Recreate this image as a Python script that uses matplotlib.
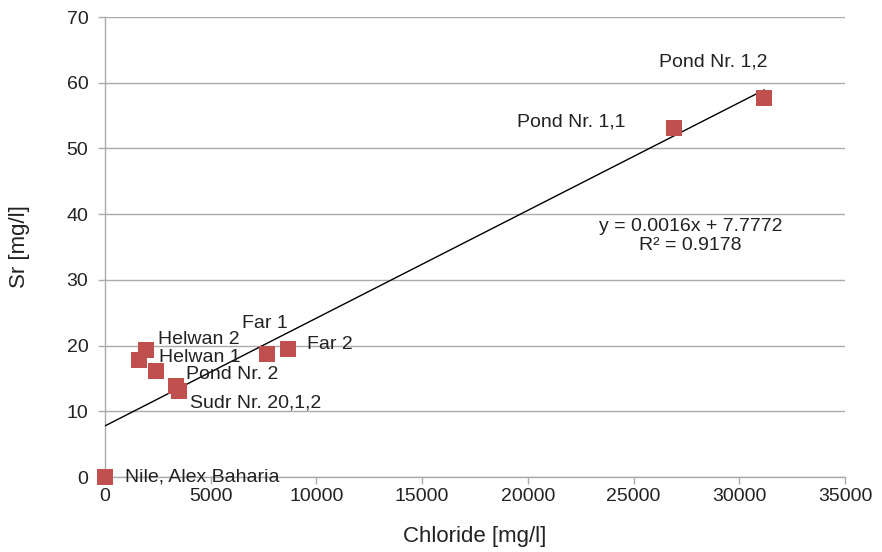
import numpy as np
import matplotlib
matplotlib.use('Agg')
import matplotlib.pyplot as plt

plt.rcParams['font.family'] = ['Liberation Sans', 'DejaVu Sans']

# chloride vs strontium per sampling site
chloride = [20, 1600, 1940, 2410, 3360, 3500, 7660, 8660, 26920, 31170]
sr = [0.0, 17.8, 19.3, 16.1, 13.85, 13.1, 18.7, 19.5, 53.1, 57.7]
site = ['Nile, Alex Baharia', 'Helwan 1', 'Helwan 2', '', 'Pond Nr. 2',
        'Sudr Nr. 20,1,2', 'Far 1', 'Far 2', 'Pond Nr. 1,1', 'Pond Nr. 1,2']
# label offsets in pixels (left edge of text, vertical centre)
lab_dx = [20, 20, 12, 0, 10, 11, -25, 19, -157, -105]
lab_dy = [0, 3, 11, 0, 11, -12, 31, 4, 6, 36]

slope = 0.00164
intercept = 7.7772
eq_text = 'y = 0.0016x + 7.7772\nR² = 0.9178'

red = '#C0504D'
gray = '#ABABAB'

fig = plt.figure(figsize=(8.82, 5.52), dpi=100)
ax = fig.add_axes([105/882, 1-477/552, 740/882, 460/552])

ax.set_xlim(0, 35000)
ax.set_ylim(0, 70)
ax.set_xticks(np.arange(0, 35001, 5000))
ax.set_yticks(np.arange(0, 71, 10))
ax.yaxis.grid(True, color=gray, linewidth=1)
ax.set_axisbelow(True)

for s in ['top', 'right']:
    ax.spines[s].set_visible(False)
for s in ['left', 'bottom']:
    ax.spines[s].set_color(gray)
    ax.spines[s].set_linewidth(1)
ax.tick_params(axis='both', colors=gray, length=5, width=1, labelsize=14,
               labelcolor='#222222')
ax.tick_params(axis='x', pad=3)
ax.tick_params(axis='y', pad=7)

# linear trend line
xl = np.array([0, max(chloride)])
ax.plot(xl, slope*xl + intercept, color='black', linewidth=1, zorder=3)

ax.plot(chloride, sr, linestyle='none', marker='s', markersize=11,
        color=red, markeredgewidth=0, clip_on=False, zorder=4)

for x, y, t, dx, dy in zip(chloride, sr, site, lab_dx, lab_dy):
    if t:
        ax.annotate(t, (x, y), xytext=(dx, dy), textcoords='offset pixels',
                    ha='left', va='center', fontsize=14, color='#222222',
                    annotation_clip=False, zorder=5)

ax.text(27700, 36.7, eq_text, ha='center', va='center', fontsize=14,
        color='#222222', linespacing=1.2)

ax.set_xlabel('Chloride [mg/l]', fontsize=16, color='#222222', labelpad=15)
ax.set_ylabel('Sr [mg/l]', fontsize=16, color='#222222', labelpad=26)

fig.savefig('out.png', dpi=100)
